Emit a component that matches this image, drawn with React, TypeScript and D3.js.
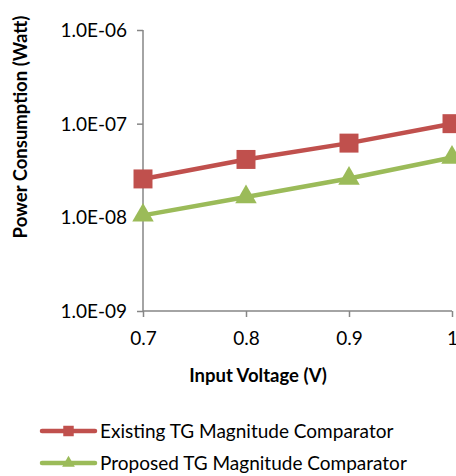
import React, { useEffect, useRef } from "react";
import * as d3 from "d3";

const voltages = [0.7, 0.8, 0.9, 1.0];
const existingPower = [2.57e-8, 4.15e-8, 6.2e-8, 1.0e-7];
const proposedPower = [1.05e-8, 1.65e-8, 2.6e-8, 4.35e-8];
const xTicks = [0.7, 0.8, 0.9, 1.0];
const xTickLabels = ["0.7", "0.8", "0.9", "1"];
const yTicks = [1e-9, 1e-8, 1e-7, 1e-6];
const yTickLabels = ["1.0E-09", "1.0E-08", "1.0E-07", "1.0E-06"];
const seriesNames = ["Existing TG Magnitude Comparator", "Proposed TG Magnitude Comparator"];

const FONT = "Lato, 'Open Sans', sans-serif";

export default function App() {
  const ref = useRef<SVGSVGElement>(null);

  useEffect(() => {
    const svg = d3.select(ref.current);
    svg.selectAll("*").remove();

    const x = d3.scaleLinear().domain([0.7, 1.0]).range([143, 452]);
    const y = d3.scaleLog().domain([1e-9, 1e-6]).range([311, 30]);

    // axes
    const yAxis = svg
      .append("g")
      .attr("transform", "translate(143,0)")
      .call(
        d3
          .axisLeft(y)
          .tickValues(yTicks)
          .tickSize(6)
          .tickFormat((d, i) => yTickLabels[i])
      );
    const xAxis = svg
      .append("g")
      .attr("transform", "translate(0,311)")
      .call(
        d3
          .axisBottom(x)
          .tickValues(xTicks)
          .tickSize(6)
          .tickFormat((d, i) => xTickLabels[i])
      );
    [yAxis, xAxis].forEach((g) => {
      g.selectAll("path, line").attr("stroke", "#868686").attr("stroke-width", 1.5);
      g.selectAll("text")
        .attr("font-family", FONT)
        .attr("font-size", 19)
        .attr("fill", "#000");
    });
    yAxis.select(".domain").attr("d", "M0,30V311");
    xAxis.select(".domain").attr("d", "M143,0H452");
    yAxis.selectAll("text").attr("x", -16).attr("dy", "0.35em");
    xAxis.selectAll("text").attr("y", 21).attr("dy", "0.71em");

    // axis titles
    svg
      .append("text")
      .attr("transform", "translate(27,127) rotate(-90)")
      .attr("text-anchor", "middle")
      .attr("font-family", FONT)
      .attr("font-weight", "bold")
      .attr("font-size", 18.5)
      .text("Power Consumption (Watt)");
    svg
      .append("text")
      .attr("x", 258)
      .attr("y", 382)
      .attr("text-anchor", "middle")
      .attr("font-family", FONT)
      .attr("font-weight", "bold")
      .attr("font-size", 18.5)
      .text("Input Voltage (V)");

    const line = d3
      .line<number>()
      .x((d, i) => x(voltages[i]))
      .y((d) => y(d));

    const series = [
      { values: existingPower, color: "#C0504D", shape: d3.symbolSquare, size: 360 },
      { values: proposedPower, color: "#9BBB59", shape: d3.symbolTriangle, size: 200 },
    ];

    series.forEach((s) => {
      svg
        .append("path")
        .attr("d", line(s.values))
        .attr("fill", "none")
        .attr("stroke", s.color)
        .attr("stroke-width", 4.5);
      svg
        .append("g")
        .selectAll("path")
        .data(s.values)
        .join("path")
        .attr("transform", (d, i) => `translate(${x(voltages[i])},${y(d)})`)
        .attr("d", d3.symbol().type(s.shape).size(s.size)())
        .attr("fill", s.color);
    });

    // legend
    series.forEach((s, i) => {
      const ly = 431 + i * 32;
      const g = svg.append("g");
      g.append("line")
        .attr("x1", 42)
        .attr("x2", 95)
        .attr("y1", ly)
        .attr("y2", ly)
        .attr("stroke", s.color)
        .attr("stroke-width", 4.5)
        .attr("stroke-linecap", "round");
      g.append("path")
        .attr("transform", `translate(68.5,${ly})`)
        .attr("d", d3.symbol().type(s.shape).size(i === 0 ? 110 : 70)())
        .attr("fill", s.color);
      g.append("text")
        .attr("x", 100)
        .attr("y", ly)
        .attr("dy", "0.35em")
        .attr("font-family", FONT)
        .attr("font-size", 19)
        .text(seriesNames[i]);
    });
  }, []);

  return (
    <svg
      ref={ref}
      width={456}
      height={476}
      style={{ position: "absolute", left: 0, top: 0, background: "#fff" }}
    />
  );
}
